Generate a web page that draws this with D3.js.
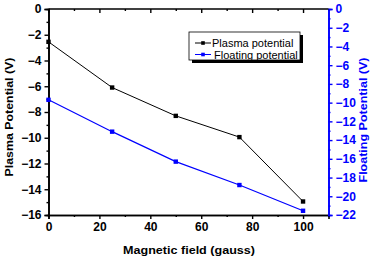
<!DOCTYPE html>
<html><head><meta charset="utf-8">
<script src="https://cdn.jsdelivr.net/npm/d3@7"></script>
<style>body{margin:0;background:#fff}svg{display:block}</style>
</head><body><svg id="c" width="374" height="259" font-family="'Liberation Sans',Arial,sans-serif"></svg>
<script>
const field = [0, 25, 50, 75, 100];
const plasma = [-2.55, -6.1, -8.3, -9.95, -14.95];
const floating = [-9.7, -13.1, -16.3, -18.8, -21.55];
const xTicks = [0, 20, 40, 60, 80, 100];
const leftTicks = [0, -2, -4, -6, -8, -10, -12, -14, -16];
const rightTicks = [0, -2, -4, -6, -8, -10, -12, -14, -16, -18, -20, -22];

const svg = d3.select("#c");
const L = 48.5, R = 328.5, T = 9, B = 215;
const x = d3.scaleLinear().domain([0, 110]).range([L, R]);
const yL = d3.scaleLinear().domain([-16, 0]).range([B, T]);
const yR = d3.scaleLinear().domain([-22, 0]).range([B, T]);
const blue = "#0000ff";
const FONT = "'Liberation Sans',Arial,sans-serif";

const gBottom = svg.append("g").attr("transform", `translate(0,${B})`)
  .call(d3.axisBottom(x).tickValues(xTicks).tickSize(4).tickPadding(3).tickFormat(d3.format("d")));
gBottom.append("g").call(d3.axisBottom(x).tickValues(d3.range(10, 111, 20)).tickSize(2).tickFormat(""));
const gTop = svg.append("g").attr("transform", `translate(0,${T})`)
  .call(d3.axisBottom(x).tickValues(xTicks).tickSize(4).tickFormat(""));
gTop.append("g").call(d3.axisBottom(x).tickValues(d3.range(10, 111, 20)).tickSize(2).tickFormat(""));
const gLeft = svg.append("g").attr("transform", `translate(${L},0)`)
  .call(d3.axisLeft(yL).tickValues(leftTicks).tickSize(4).tickPadding(3).tickFormat(d3.format("d")));
gLeft.append("g").call(d3.axisLeft(yL).tickValues(d3.range(-15, 0, 2)).tickSize(2).tickFormat(""));
const gRight = svg.append("g").attr("transform", `translate(${R},0)`)
  .call(d3.axisRight(yR).tickValues(rightTicks).tickSize(4).tickPadding(3).tickFormat(d3.format("d")));
gRight.append("g").call(d3.axisRight(yR).tickValues(d3.range(-21, 0, 2)).tickSize(2).tickFormat(""));

[gBottom, gTop, gLeft, gRight].forEach(g => {
  g.selectAll("path.domain").attr("stroke-width", 1.6);
  g.selectAll("line").attr("stroke-width", 1.4);
  g.selectAll("text").attr("font-size", 12).attr("font-family", FONT).attr("font-weight", "bold");
});
gTop.selectAll("path.domain").remove();
svg.append("line").attr("x1", L).attr("x2", R).attr("y1", T).attr("y2", T).attr("stroke", "#000").attr("stroke-width", 1.6);
gRight.selectAll("path.domain, line").attr("stroke", blue);
gRight.selectAll("text").attr("fill", blue);

const lineP = d3.line().x((d, i) => x(field[i])).y(d => yL(d));
const lineF = d3.line().x((d, i) => x(field[i])).y(d => yR(d));
svg.append("path").attr("d", lineP(plasma)).attr("fill", "none").attr("stroke", "#000").attr("stroke-width", 1);
svg.append("path").attr("d", lineF(floating)).attr("fill", "none").attr("stroke", blue).attr("stroke-width", 1.2);
svg.selectAll(".mp").data(plasma).enter().append("rect")
  .attr("x", (d, i) => x(field[i]) - 2.2).attr("y", d => yL(d) - 2.2).attr("width", 4.4).attr("height", 4.4).attr("fill", "#000");
svg.selectAll(".mf").data(floating).enter().append("rect")
  .attr("x", (d, i) => x(field[i]) - 2.2).attr("y", d => yR(d) - 2.2).attr("width", 4.4).attr("height", 4.4).attr("fill", blue);

const lg = svg.append("g");
lg.append("rect").attr("x", 192).attr("y", 35).attr("width", 111).attr("height", 28).attr("fill", "#000");
lg.append("rect").attr("x", 189).attr("y", 32).attr("width", 111).attr("height", 28).attr("fill", "#fff").attr("stroke", "#000").attr("stroke-width", 0.8);
const items = [["Plasma potential", "#000"], ["Floating potential", blue]];
items.forEach((it, i) => {
  const yy = 43 + i * 11.5;
  lg.append("line").attr("x1", 195).attr("x2", 211).attr("y1", yy).attr("y2", yy).attr("stroke", it[1]).attr("stroke-width", 1);
  lg.append("rect").attr("x", 201.2).attr("y", yy - 1.8).attr("width", 3.6).attr("height", 3.6).attr("fill", it[1]);
  lg.append("text").attr("x", 212 + i * 2).attr("y", yy + 4).attr("font-size", 11).attr("font-family", FONT).attr("font-weight", "normal").text(it[0]);
});

svg.append("text").attr("x", 189).attr("y", 254).attr("text-anchor", "middle").attr("font-size", 11.5).attr("font-weight", "bold").attr("textLength", 132).attr("lengthAdjust", "spacingAndGlyphs").text("Magnetic field (gauss)");
svg.append("text").attr("transform", `translate(13,117) rotate(-90)`).attr("text-anchor", "middle").attr("font-size", 11.5).attr("font-weight", "bold").attr("textLength", 119).attr("lengthAdjust", "spacingAndGlyphs").text("Plasma Potential (V)");
svg.append("text").attr("transform", `translate(367,120) rotate(-90)`).attr("text-anchor", "middle").attr("font-size", 11.5).attr("font-weight", "bold").attr("fill", blue).attr("textLength", 125).attr("lengthAdjust", "spacingAndGlyphs").text("Floating Potential (V)");
</script></body></html>
